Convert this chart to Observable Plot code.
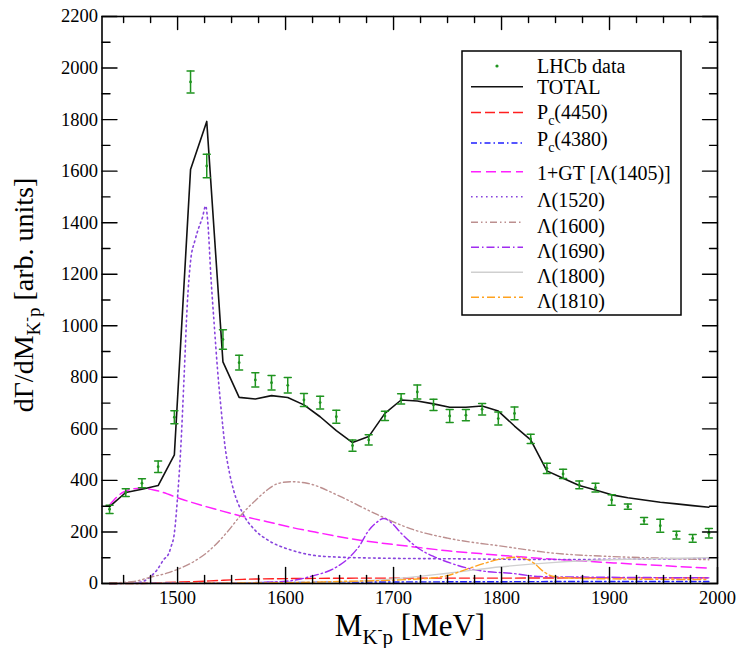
<!DOCTYPE html>
<html>
<head>
<meta charset="utf-8">
<script src="https://cdn.jsdelivr.net/npm/d3@7"></script>
<script src="https://cdn.jsdelivr.net/npm/@observablehq/plot@0.6"></script>
<style>
  html, body { margin: 0; padding: 0; background: white; }
  #chart svg { display: block; }
</style>
</head>
<body>
<div id="chart"></div>
<script>
// LHCb K^- p invariant-mass spectrum (bin centres, MeV)
const dataMass = [1437, 1452, 1467, 1482, 1497, 1512, 1527, 1542, 1557, 1572, 1587, 1602, 1617, 1632, 1647, 1662, 1677, 1692, 1707, 1722, 1737, 1752, 1767, 1782, 1797, 1812, 1827, 1842, 1857, 1872, 1887, 1902, 1917, 1932, 1947, 1962, 1977, 1992];
const dataValue = [288, 353, 389, 453, 645, 1946, 1620, 947, 857, 790, 779, 769, 712, 702, 647, 535, 557, 650, 716, 743, 693, 650, 653, 676, 640, 660, 561, 447, 425, 383, 372, 324, 298, 243, 224, 188, 175, 195];
const dataError = [16, 15, 17, 22, 25, 43, 46, 38, 29, 28, 28, 30, 25, 25, 25, 22, 20, 18, 20, 27, 22, 25, 22, 22, 25, 25, 18, 20, 18, 15, 17, 20, 10, 13, 25, 15, 15, 18];

// Full model, evaluated at the bin centres
const totalValue = [298, 353, 366, 380, 499, 1606, 1793, 860, 722, 716, 729, 722, 693, 647, 593, 547, 570, 660, 712, 708, 697, 684, 684, 689, 669, 611, 557, 437, 408, 380, 363, 344, 333, 324, 315, 309, 302, 296];

// Individual contributions
const pc4450Mass = [1437, 1480, 1530, 1560, 1600, 1700, 1800, 1900, 1992];
const pc4450Value = [0, 3, 10, 16, 19, 21, 21, 22, 22];

const pc4380Mass = [1437, 1500, 1600, 1700, 1800, 1900, 1992];
const pc4380Value = [0, 2, 4, 6, 7, 8, 8];

const gtMass = [1437, 1450, 1465, 1478, 1506, 1537, 1555, 1583, 1605, 1623, 1669, 1713, 1750, 1780, 1842, 1904, 1950, 1992];
const gtValue = [305, 355, 370, 363, 324, 286, 266, 240, 218, 203, 168, 145, 127, 116, 96, 80, 69, 60];

const l1520Mass = [1437, 1460, 1468, 1475, 1481, 1487, 1492, 1494, 1497, 1500, 1503, 1506, 1509, 1512, 1516, 1520, 1523, 1526, 1528, 1531, 1534, 1537, 1540, 1544, 1548, 1552, 1560, 1571, 1583, 1605, 1636, 1692, 1750, 1845, 1992];
const l1520Value = [0, 2, 8, 27, 53, 92, 118, 143, 195, 337, 530, 800, 1085, 1250, 1330, 1385, 1420, 1465, 1400, 1180, 1000, 830, 690, 530, 430, 360, 275, 210, 170, 130, 105, 98, 96, 93, 97];

const l1600Mass = [1437, 1460, 1475, 1490, 1500, 1515, 1530, 1546, 1558, 1574, 1583, 1593, 1605, 1620, 1651, 1682, 1719, 1750, 1800, 1850, 1900, 1950, 1992];
const l1600Value = [2, 8, 25, 40, 55, 85, 130, 200, 262, 330, 363, 388, 395, 389, 337, 273, 208, 176, 145, 117, 105, 98, 92];

const l1690Mass = [1437, 1550, 1598, 1623, 1648, 1660, 1669, 1676, 1683, 1691, 1699, 1707, 1725, 1737, 1753, 1768, 1787, 1808, 1836, 1876, 1992];
const l1690Value = [0, 2, 8, 27, 66, 105, 150, 200, 232, 252, 232, 195, 131, 105, 79, 60, 46, 40, 27, 25, 22];

const l1800Mass = [1437, 1600, 1650, 1700, 1750, 1800, 1850, 1900, 1950, 1992];
const l1800Value = [0, 2, 6, 18, 40, 65, 82, 92, 97, 100];

const l1810Mass = [1437, 1600, 1650, 1706, 1746, 1768, 1784, 1799, 1814, 1830, 1839, 1848, 1870, 1992];
const l1810Value = [0, 3, 8, 14, 27, 56, 78, 95, 102, 79, 46, 27, 20, 15];

// Axis ticks
const xMajor = [1500, 1600, 1700, 1800, 1900, 2000];
const xMinor = [1450, 1475, 1525, 1550, 1575, 1625, 1650, 1675, 1725, 1750, 1775, 1825, 1850, 1875, 1925, 1950, 1975];
const yMajor = [0, 200, 400, 600, 800, 1000, 1200, 1400, 1600, 1800, 2000, 2200];
const yMinor = [100, 300, 500, 700, 900, 1100, 1300, 1500, 1700, 1900, 2100];

const GREEN = "#1f941f";
const SERIF = "'Liberation Serif', 'DejaVu Serif', serif";

const series = (xs, ys) => xs.map((x, i) => ({x, y: ys[i]}));
const points = dataMass.map((x, i) => ({x, y: dataValue[i], e: dataError[i]}));
const totalLine = series(dataMass, totalValue);

// Components, in legend order
const components = [
  {name: "Pc4450", data: series(pc4450Mass, pc4450Value), stroke: "#ff1f1f", dash: "10,4", width: 1.4},
  {name: "Pc4380", data: series(pc4380Mass, pc4380Value), stroke: "#1f1fff", dash: "6,3,1.5,3", width: 1.4},
  {name: "GT", data: series(gtMass, gtValue), stroke: "#ff1fff", dash: "10,5", width: 1.5},
  {name: "L1520", data: series(l1520Mass, l1520Value), stroke: "#8844dd", dash: "1.6,3.4", width: 1.6},
  {name: "L1600", data: series(l1600Mass, l1600Value), stroke: "#bc8f8f", dash: "7,3,1.5,3,1.5,3", width: 1.4},
  {name: "L1690", data: series(l1690Mass, l1690Value), stroke: "#a02cf0", dash: "8,3,1.5,3", width: 1.4},
  {name: "L1800", data: series(l1800Mass, l1800Value), stroke: "#cfcfcf", dash: null, width: 1.4},
  {name: "L1810", data: series(l1810Mass, l1810Value), stroke: "#ffa21f", dash: "8,3,2,3", width: 1.4}
];

// short straight stroke used for ticks and error-bar caps
const stroke = {draw(ctx, l) { ctx.moveTo(0, 0); ctx.lineTo(0, -l); }};
const tickMarks = (values, opts) => Plot.vector(values, {anchor: "start", shape: stroke, stroke: "black", strokeWidth: 1.4, ...opts});

const svg = Plot.plot({
  width: 741,
  height: 648,
  marginLeft: 101.5,
  marginRight: 24,
  marginTop: 16,
  marginBottom: 65,
  style: {fontFamily: SERIF, background: "white", color: "black", overflow: "visible"},
  x: {domain: [1430, 2000]},
  y: {domain: [0, 2200]},
  marks: [
    ...components.map(c => Plot.line(c.data, {x: "x", y: "y", stroke: c.stroke, strokeWidth: c.width, strokeDasharray: c.dash, curve: "monotone-x"})),
    Plot.line(totalLine, {x: "x", y: "y", stroke: "#111", strokeWidth: 1.6}),
    Plot.ruleX(points, {x: "x", y1: d => d.y - d.e, y2: d => d.y + d.e, stroke: GREEN, strokeWidth: 1.5}),
    Plot.vector(points, {x: "x", y: d => d.y - d.e, length: 7, rotate: 90, anchor: "middle", shape: stroke, stroke: GREEN, strokeWidth: 1.5}),
    Plot.vector(points, {x: "x", y: d => d.y + d.e, length: 7, rotate: 90, anchor: "middle", shape: stroke, stroke: GREEN, strokeWidth: 1.5}),
    Plot.dot(points, {x: "x", y: "y", r: 1.4, fill: GREEN, stroke: null}),
    // inward ticks on all four sides
    tickMarks(xMajor, {x: d => d, y: 0, length: 16, rotate: 0}),
    tickMarks(xMinor, {x: d => d, y: 0, length: 8, rotate: 0}),
    tickMarks(xMajor, {x: d => d, y: 2200, length: 13, rotate: 180}),
    tickMarks(xMinor, {x: d => d, y: 2200, length: 6, rotate: 180}),
    tickMarks(yMajor, {y: d => d, x: 1430, length: 15, rotate: 90}),
    tickMarks(yMinor, {y: d => d, x: 1430, length: 8, rotate: 90}),
    tickMarks(yMajor, {y: d => d, x: 2000, length: 15, rotate: 270}),
    tickMarks(yMinor, {y: d => d, x: 2000, length: 8, rotate: 270}),
    Plot.axisX({ticks: xMajor, tickSize: 0, tickPadding: 7, fontSize: 18.5, tickFormat: d => String(d), label: null}),
    Plot.axisY({ticks: yMajor, tickSize: 0, tickPadding: 4, fontSize: 18.5, tickFormat: d => String(d), label: null}),
    Plot.frame({stroke: "black", strokeWidth: 1.6})
  ]
});

const root = d3.select(svg);

// Axis titles with sub/superscripts
const yTitle = root.append("text")
  .attr("transform", "translate(33,295) rotate(-90)")
  .attr("text-anchor", "middle")
  .attr("font-family", SERIF)
  .attr("font-size", 28)
  .attr("fill", "black");
yTitle.append("tspan").text("dΓ/dM");
yTitle.append("tspan").attr("font-size", 19).attr("dy", 7).text("K");
yTitle.append("tspan").attr("font-size", 14).attr("dy", -9).text("-");
yTitle.append("tspan").attr("font-size", 19).attr("dy", 9).text("p");
yTitle.append("tspan").attr("dy", -7).text(" [arb. units]");

const xTitle = root.append("text")
  .attr("x", 410).attr("y", 636)
  .attr("text-anchor", "middle")
  .attr("font-family", SERIF)
  .attr("font-size", 31)
  .attr("fill", "black");
xTitle.append("tspan").text("M");
xTitle.append("tspan").attr("font-size", 21).attr("dy", 8).text("K");
xTitle.append("tspan").attr("font-size", 15).attr("dy", -10).text("-");
xTitle.append("tspan").attr("font-size", 21).attr("dy", 10).text("p");
xTitle.append("tspan").attr("dy", -8).text(" [MeV]");

// Legend box inside the plot area
const legend = root.append("g")
  .attr("font-family", SERIF).attr("font-size", 20)
  .attr("text-anchor", "start").attr("fill", "black");
legend.append("rect")
  .attr("x", 462).attr("y", 51).attr("width", 219).attr("height", 264)
  .attr("fill", "white").attr("stroke", "black").attr("stroke-width", 1.5);

const legendRows = [
  {kind: "dot", parts: [["LHCb data"]], lineY: 66, baseY: 73},
  {kind: "line", stroke: "#111", dash: null, width: 1.6, parts: [["TOTAL"]], lineY: 86.7, baseY: 94},
  {kind: "line", c: 0, parts: [["P"], ["c", "sub"], ["(4450)"]], lineY: 112.5, baseY: 119},
  {kind: "line", c: 1, parts: [["P"], ["c", "sub"], ["(4380)"]], lineY: 143, baseY: 146},
  {kind: "line", c: 2, parts: [["1+GT [Λ(1405)]"]], lineY: 171.7, baseY: 180},
  {kind: "line", c: 3, parts: [["Λ(1520)"]], lineY: 196.7, baseY: 206.5},
  {kind: "line", c: 4, parts: [["Λ(1600)"]], lineY: 222.3, baseY: 232.5},
  {kind: "line", c: 5, parts: [["Λ(1690)"]], lineY: 247.3, baseY: 258},
  {kind: "line", c: 6, parts: [["Λ(1800)"]], lineY: 272.3, baseY: 283},
  {kind: "line", c: 7, parts: [["Λ(1810)"]], lineY: 297.3, baseY: 308}
];

for (const row of legendRows) {
  if (row.kind === "dot") {
    legend.append("circle").attr("cx", 497).attr("cy", row.lineY).attr("r", 1.6).attr("fill", GREEN);
  } else {
    const c = row.c !== undefined ? components[row.c] : row;
    legend.append("line")
      .attr("x1", 471).attr("x2", 523).attr("y1", row.lineY).attr("y2", row.lineY)
      .attr("stroke", c.stroke).attr("stroke-width", c.width)
      .attr("stroke-dasharray", c.dash);
  }
  const t = legend.append("text").attr("x", 537).attr("y", row.baseY).attr("text-anchor", "start");
  let shifted = false;
  for (const [s, mode] of row.parts) {
    const sp = t.append("tspan").text(s);
    if (mode === "sub") { sp.attr("font-size", 14).attr("dy", 6); shifted = true; }
    else if (shifted) { sp.attr("dy", -6); shifted = false; }
  }
}

document.getElementById("chart").appendChild(svg);
</script>
</body>
</html>
